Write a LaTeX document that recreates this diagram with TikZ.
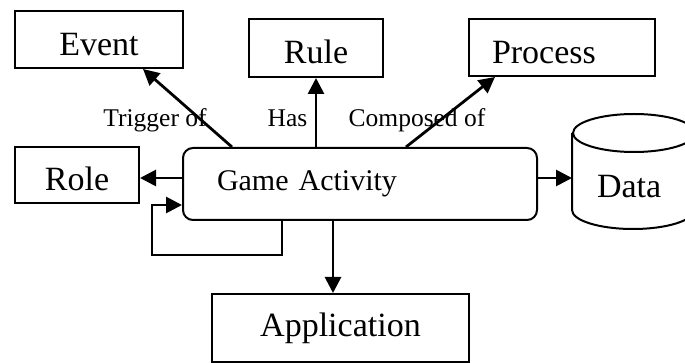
\documentclass[tikz,border=0pt]{standalone}
\usepackage{fontspec}
\setmainfont{Liberation Serif}
\usetikzlibrary{arrows.meta}

\begin{document}
\begin{tikzpicture}[x=0.5pt,y=-0.5pt,line width=1pt,
	box/.style={draw,font=\fontsize{17}{20}\selectfont,text height=15.8pt,text depth=0pt},
	arr/.style={line width=1.4pt,-{Triangle[length=8pt,width=8pt]}},
	rel/.style={font=\fontsize{12.75}{15}\selectfont,anchor=base}]
\useasboundingbox (0,0) rectangle (685,363);
\node[box,minimum width=84pt,minimum height=28.5pt](event) at (99,39.5){Event};
\node[box,minimum width=67pt,minimum height=29pt](rule) at (316,48){Rule};
\node[box,text width=70pt,inner xsep=11.5pt,align=left,minimum height=28.5pt](process) at (562,47.5){Process};
\node[box,minimum width=62pt,minimum height=28pt](role) at (77,175){Role};
\node[draw,rounded corners=5pt,font=\fontsize{15}{18}\selectfont,text width=143pt,inner xsep=17pt,align=left,minimum height=36pt](game) at (360,184){Game Activity};
\node[draw,font=\fontsize{17}{20}\selectfont,minimum width=128.5pt,minimum height=34pt](app) at (340.5,328){Application};
\node[font=\fontsize{17}{20}\selectfont,text height=25.8pt,text depth=0pt,inner ysep=0pt,inner xsep=12pt,text width=37pt,align=left,minimum height=56.5pt](data) at (634,171.5){Data};
\draw ([yshift=-9.5pt]data.north) ellipse[x radius=30.5pt,y radius=9.5pt];
\draw ([yshift=-9.5pt]data.north west) -- ([yshift=9.5pt]data.south west) arc[start angle=180,end angle=360,x radius=30.5pt,y radius=9.5pt] -- ([yshift=-9.5pt]data.north east);
\node[rel](trig) at (155,127){Trigger of};
\node[rel](has) at (287.5,127){Has};
\node[rel](comp) at (417,127){Composed of};
\draw[arr] ([xshift=25pt]game.north west) -- ([xshift=-20.5pt]event.south east);
\draw[arr] (game.north -| rule.south) -- (rule.south);
\draw[arr] ([xshift=-66pt]game.north east) -- ([xshift=13.5pt]process.south west);
\draw[arr] ([yshift=3pt]game.west) -- ([yshift=3pt]game.west -| role.east);
\draw[arr] ([yshift=3pt]game.east) -- ([yshift=3pt]game.east -| data.west);
\draw[arr] ([xshift=-13.5pt]game.south) -- ([xshift=-13.5pt]game.south |- app.north);
\draw[arr] ([xshift=50pt]game.south west) -- ++(0,34) -- ++(-130,0) |- ([yshift=-10.5pt]game.west);
\end{tikzpicture}
\end{document}
